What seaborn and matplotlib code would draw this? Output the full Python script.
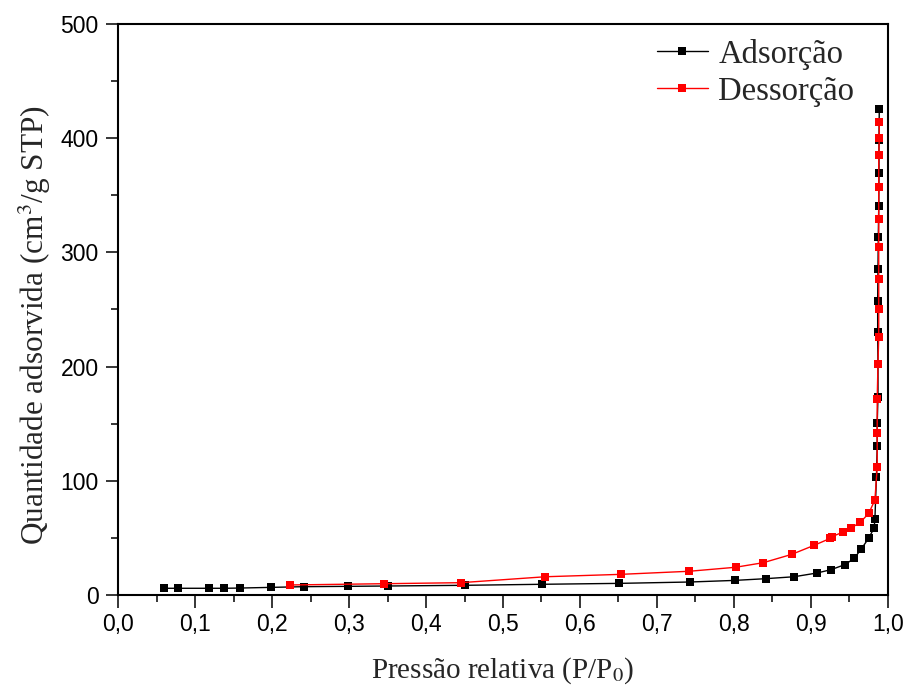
import matplotlib
matplotlib.use("Agg")
import matplotlib.pyplot as plt
import seaborn as sns
import pandas as pd
from matplotlib.ticker import MultipleLocator, FuncFormatter

# Adsorption branch (relative pressure, quantity adsorbed)
ads_p = [0.060, 0.078, 0.118, 0.138, 0.158, 0.199, 0.241, 0.299, 0.350, 0.450,
         0.551, 0.651, 0.743, 0.801, 0.841, 0.878, 0.908, 0.926, 0.944, 0.956,
         0.965, 0.975, 0.982, 0.983, 0.985, 0.986, 0.986, 0.987, 0.987, 0.9866,
         0.9866, 0.987, 0.9874, 0.988, 0.9883, 0.9883, 0.9887]
ads_q = [5.9, 5.9, 5.9, 5.9, 6.1, 6.7, 7.3, 7.6, 7.9, 8.5,
         9.4, 10.2, 11.4, 12.8, 14.3, 16.0, 19.3, 22.2, 26.6, 32.0,
         40.0, 49.8, 58.8, 66.3, 103.6, 130.5, 150.3, 173.1, 202.3, 230.0,
         257.7, 285.5, 313.5, 340.6, 369.8, 398.4, 425.6]

# Desorption branch, from high to low relative pressure
des_p = [0.9887, 0.9887, 0.988, 0.988, 0.988, 0.988, 0.988, 0.988, 0.988, 0.987,
         0.986, 0.986, 0.986, 0.983, 0.975, 0.964, 0.952, 0.941, 0.927, 0.925,
         0.904, 0.875, 0.838, 0.802, 0.742, 0.653, 0.555, 0.445, 0.345, 0.224]
des_q = [413.9, 399.9, 385.3, 357.0, 329.2, 304.4, 276.4, 250.4, 226.2, 202.3,
         171.6, 141.6, 111.8, 83.2, 71.5, 63.6, 58.7, 54.9, 51.1, 49.6,
         43.5, 35.6, 28.3, 24.3, 20.8, 18.1, 16.0, 10.8, 9.9, 8.8]

x_ticks = [0.0, 0.1, 0.2, 0.3, 0.4, 0.5, 0.6, 0.7, 0.8, 0.9, 1.0]
y_ticks = [0, 100, 200, 300, 400, 500]

sns.set_style("ticks")
plt.rcParams["mathtext.fontset"] = "stix"
serif = ["Liberation Serif", "DejaVu Serif"]
sans = ["Liberation Sans", "DejaVu Sans"]

fig = plt.figure(figsize=(9.05, 6.89), dpi=100)
ax = fig.add_axes([0.1304, 0.1364, 0.8508, 0.8288])

ads = pd.DataFrame({"p": ads_p, "q": ads_q})
des = pd.DataFrame({"p": des_p, "q": des_q})

common = dict(estimator=None, sort=False, marker="s", markersize=6.2,
              markeredgewidth=0, linewidth=1.0, ax=ax)
sns.lineplot(data=ads, x="p", y="q", color="black", label="Adsorção", **common)
sns.lineplot(data=des, x="p", y="q", color="#ff0000", label="Dessorção", **common)

ax.set_xlim(0.0, 1.0)
ax.set_ylim(0, 500)
ax.set_xticks(x_ticks)
ax.set_yticks(y_ticks)
ax.xaxis.set_minor_locator(MultipleLocator(0.05))
ax.yaxis.set_minor_locator(MultipleLocator(50))
ax.xaxis.set_major_formatter(FuncFormatter(lambda v, _: f"{v:.1f}".replace(".", ",")))
ax.yaxis.set_major_formatter(FuncFormatter(lambda v, _: f"{int(v)}"))

for s in ax.spines.values():
    s.set_linewidth(1.5)
    s.set_color("black")
    s.set_visible(True)

ax.tick_params(which="major", direction="out", length=9, width=1.1,
               labelsize=16.5, pad=4, colors="black")
ax.tick_params(which="minor", direction="out", length=5, width=1.1, colors="black")
ax.tick_params(axis="y", which="major", pad=5)
for lbl in ax.get_xticklabels() + ax.get_yticklabels():
    lbl.set_family(sans)

ax.set_xlabel("Pressão relativa (P/P$_0$)", fontsize=21, family=serif, labelpad=14)
ax.set_ylabel("Quantidade adsorvida (cm$^3$/g STP)", fontsize=22.5, family=serif)
ax.yaxis.set_label_coords(-0.084, 0.473)

leg = ax.legend(loc="upper left", bbox_to_anchor=(0.700, 0.974), frameon=False,
                prop={"family": serif, "size": 23.5}, handlelength=1.55,
                handletextpad=0.33, labelspacing=0.2, borderaxespad=0.0,
                borderpad=0.0)

fig.savefig("out.png", dpi=100)
